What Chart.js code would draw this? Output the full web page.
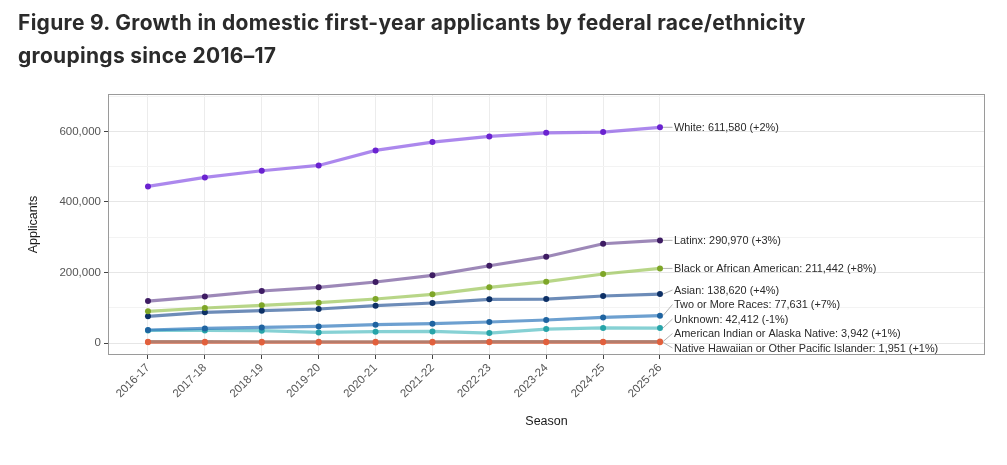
<!DOCTYPE html>
<html>
<head>
<meta charset="utf-8">
<script src="https://cdn.jsdelivr.net/npm/chart.js@4.4.1/dist/chart.umd.min.js"></script>
<style>
  html, body { margin: 0; padding: 0; background: #ffffff; }
  body { width: 1007px; height: 465px; position: relative; overflow: hidden; }
  #title { position: absolute; left: 18px; top: 6px; width: 985px; font-family: Inter, "Open Sans", sans-serif; font-weight: 700; font-size: 21px; line-height: 33px; color: #2b2b2b; letter-spacing: 0.3px; white-space: nowrap; }
  #wrap { position: absolute; left: 0; top: 0; width: 1007px; height: 465px; }
</style>
</head>
<body>
<div id="wrap"><canvas id="c" width="1007" height="465"></canvas></div>
<div id="title">Figure 9. Growth in domestic first-year applicants by federal race/ethnicity<br>groupings since 2016–17</div>
<script>
const seasons = ['2016-17','2017-18','2018-19','2019-20','2020-21','2021-22','2022-23','2023-24','2024-25','2025-26'];

const groupNames = ['White','Latinx','Black or African American','Asian','Two or More Races','Unknown','American Indian or Alaska Native','Native Hawaiian or Other Pacific Islander'];
const changeLabels = ['+2%','+3%','+8%','+4%','+7%','-1%','+1%','+1%'];

const white   = [444000, 469500, 488400, 503500, 546000, 569600, 585700, 596000, 598000, 611580];
const latinx  = [119000, 132000, 147400, 157800, 172900, 191800, 219000, 244700, 281500, 290970];
const black   = [89700, 99200, 106700, 114300, 124700, 137900, 157800, 173800, 195600, 211442];
const asian   = [75600, 86900, 91600, 96400, 105800, 113400, 123800, 124700, 133300, 138620];
const twoMore = [36900, 41400, 44300, 47100, 51900, 54800, 59600, 65200, 72500, 77631];
const unknown = [35500, 35800, 34900, 30100, 32000, 32900, 28300, 39500, 42850, 42412];
const aian    = [3700, 3650, 3600, 3500, 3550, 3600, 3700, 3800, 3900, 3942];
const nhpi    = [1800, 1780, 1760, 1700, 1720, 1750, 1800, 1880, 1930, 1951];

const yTicks = [0, 200000, 400000, 600000];

const seriesList = [white, latinx, black, asian, twoMore, unknown, aian, nhpi];
const pointColors = ['#6a22d0', '#3e1c63', '#7ea628', '#0d3066', '#1f64a1', '#27a4a9', '#e0603e', '#f0663a'];
const lineColors  = ['rgba(140,90,230,0.72)', 'rgba(110,80,150,0.68)', 'rgba(150,195,80,0.68)', 'rgba(40,85,150,0.68)', 'rgba(40,115,185,0.68)', 'rgba(60,180,185,0.62)', 'rgba(165,115,100,0.8)', 'rgba(240,110,75,0.65)'];

const drawOrder = [7, 6, 5, 4, 3, 2, 1, 0];

const datasets = drawOrder.map(i => ({
  label: groupNames[i],
  data: seriesList[i].map((v, k) => ({ x: k, y: v })),
  borderColor: lineColors[i],
  backgroundColor: pointColors[i],
  pointBackgroundColor: pointColors[i],
  pointBorderColor: pointColors[i],
  pointRadius: 3,
  pointBorderWidth: 0,
  borderWidth: 3.2,
  tension: 0,
  fill: false,
  order: i,
  _gi: i
}));

const PLOT = { left: 108, top: 94, right: 985, bottom: 355 };
const labelFont = '10.9px "Liberation Sans", Arial, sans-serif';

const labelPlugin = {
  id: 'endLabels',
  beforeDatasetsDraw(chart) {
    const { ctx, chartArea: a } = chart;
    ctx.save();
    ctx.strokeStyle = '#9a9a9a';
    ctx.lineWidth = 1;
    ctx.strokeRect(a.left + 0.5, a.top + 0.5, a.right - a.left - 1, a.bottom - a.top - 1);
    ctx.restore();
  },
  afterDatasetsDraw(chart) {
    const { ctx, chartArea: a } = chart;
    const items = [];
    chart.data.datasets.forEach((ds, di) => {
      const meta = chart.getDatasetMeta(di);
      const pt = meta.data[meta.data.length - 1];
      const gi = ds._gi;
      const val = seriesList[gi][seriesList[gi].length - 1];
      items.push({ gi, px: pt.x, py: pt.y, want: pt.y, text: groupNames[gi] + ': ' + val.toLocaleString('en-US') + ' (' + changeLabels[gi] + ')' });
    });
    items.sort((p, q) => p.want - q.want);
    const gap = 14.5;
    const minY = a.top + 7, maxY = a.bottom - 7;
    let clusters = items.map(it => ({ members: [it], center: it.want }));
    const pos = c => { const n = c.members.length; let s = c.center - (n - 1) * gap / 2; s = Math.max(minY, Math.min(maxY - (n - 1) * gap, s)); return s; };
    let changed = true;
    while (changed) {
      changed = false;
      for (let k = 0; k < clusters.length - 1; k++) {
        const c1 = clusters[k], c2 = clusters[k + 1];
        const end1 = pos(c1) + (c1.members.length - 1) * gap;
        const start2 = pos(c2);
        if (start2 - end1 < gap - 0.01) {
          const members = c1.members.concat(c2.members);
          const center = members.reduce((s, m) => s + m.want, 0) / members.length;
          clusters.splice(k, 2, { members, center });
          changed = true;
          break;
        }
      }
    }
    clusters.forEach(c => { const s = pos(c); c.members.forEach((m, j) => { m.ly = s + j * gap; }); });
    ctx.save();
    ctx.font = labelFont;
    ctx.textBaseline = 'middle';
    ctx.textAlign = 'left';
    items.forEach(it => {
      const tx = it.px + 14;
      ctx.strokeStyle = '#a0a0a0';
      ctx.lineWidth = 0.8;
      ctx.beginPath();
      ctx.moveTo(it.px + 3, it.py);
      ctx.lineTo(tx - 1.5, it.ly);
      ctx.stroke();
      ctx.fillStyle = '#2a2a2a';
      ctx.fillText(it.text, tx, it.ly + 0.5);
    });
    ctx.restore();
  }
};

Chart.defaults.font.family = '"Liberation Sans", Arial, sans-serif';

new Chart(document.getElementById('c'), {
  type: 'line',
  data: { datasets },
  options: {
    responsive: false,
    animation: false,
    devicePixelRatio: 1,
    layout: { padding: { top: PLOT.top, right: 1007 - PLOT.right, left: 0, bottom: 0 } },
    plugins: { legend: { display: false }, tooltip: { enabled: false }, title: { display: false } },
    scales: {
      x: {
        type: 'linear',
        min: -0.703,
        max: 14.713,
        afterBuildTicks: s => { s.ticks = seasons.map((_, i) => ({ value: i })); },
        afterFit: s => { s.height = 465 - PLOT.bottom; },
        ticks: {
          autoSkip: false,
          minRotation: 45,
          maxRotation: 45,
          padding: 2,
          color: '#555555',
          font: { size: 11.5 },
          callback: v => seasons[v]
        },
        grid: { color: '#ececec', lineWidth: 1, tickLength: 4, tickColor: '#444', drawTicks: true },
        border: { display: false },
        title: { display: true, text: 'Season', color: '#1a1a1a', font: { size: 12.5 }, padding: { top: 0, bottom: 36 } }
      },
      y: {
        type: 'linear',
        min: -34000,
        max: 706000,
        afterBuildTicks: s => {
          const t = [];
          for (let v = 0; v <= 700000; v += 100000) t.push({ value: v, major: yTicks.includes(v) });
          s.ticks = t;
        },
        afterFit: s => { s.width = PLOT.left; },
        ticks: {
          padding: 3,
          color: '#555555',
          font: { size: 11.5 },
          callback: v => yTicks.includes(v) ? v.toLocaleString('en-US') : ''
        },
        grid: {
          color: c => (c.tick && yTicks.includes(c.tick.value)) ? '#e6e6e6' : '#f3f3f3',
          tickColor: c => (c.tick && yTicks.includes(c.tick.value)) ? '#444' : 'rgba(0,0,0,0)',
          tickLength: 4,
          lineWidth: 1
        },
        border: { display: false },
        title: { display: true, text: 'Applicants', color: '#1a1a1a', font: { size: 12.5 }, padding: { top: 26, bottom: 0 } }
      }
    }
  },
  plugins: [labelPlugin]
});
</script>
</body>
</html>
